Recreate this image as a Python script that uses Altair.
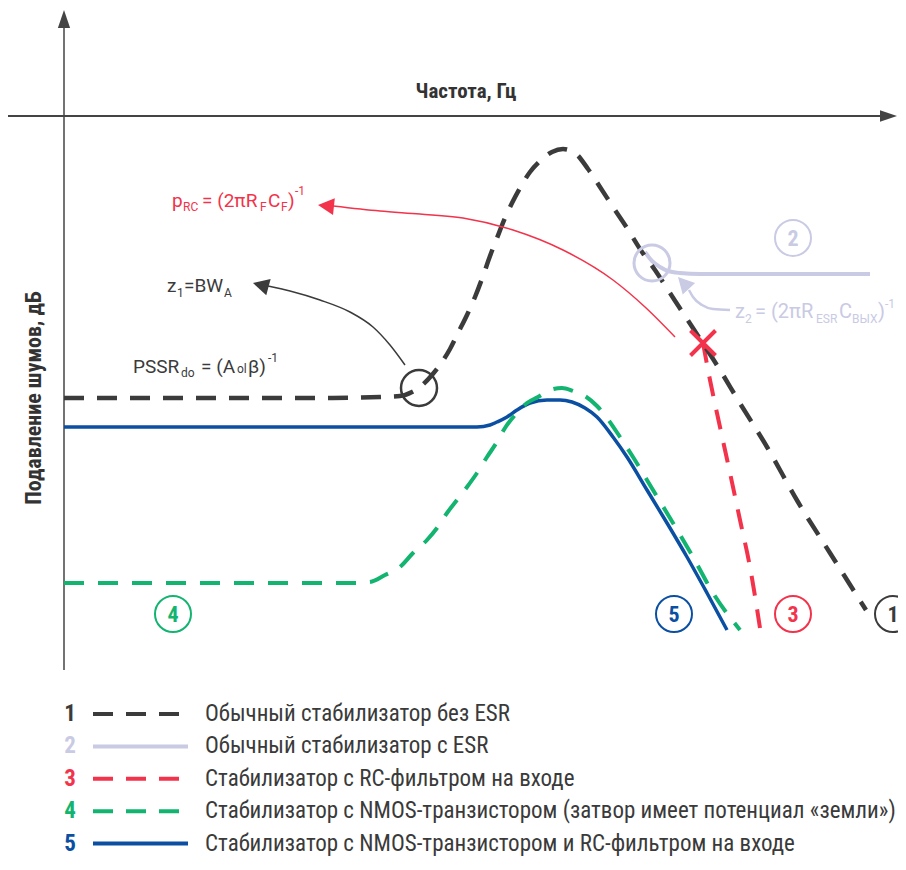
import altair as alt
import pandas as pd

# ---------------- colours / fonts ----------------
DARK = "#3b3b3b"
LAV = "#c9cae4"
RED = "#f2334b"
GREEN = "#12b46f"
BLUE = "#0b4fa3"
FONT_C = "Roboto Condensed, Liberation Sans Narrow, DejaVu Sans Condensed, Roboto, sans-serif"
FONT_R = "Roboto, Inter, sans-serif"

# ---------------- plot coordinate system ----------------
X_DOMAIN = [8, 898]
Y_DOMAIN = [8, 858]

# ---------------- curves ----------------
c1_x = [64, 200, 330, 380, 400, 412, 420, 432, 442, 450, 458, 467, 475, 483, 490, 497, 505, 512,
        520, 530, 540, 552, 563, 575, 588, 600, 613, 627, 640, 655, 670, 685, 702, 720, 738, 767,
        798, 830, 866]
c1_y = [398, 398, 398, 397, 396, 392, 387, 375, 362, 349, 333, 315, 297, 276, 256, 238, 218, 203,
        188, 172, 161, 152, 149, 153, 169, 187, 207, 228, 249, 270, 293, 316, 342, 370, 400, 447,
        502, 553, 610]

c2_x = [645, 652, 660, 668, 680, 700, 870]
c2_y = [252, 261, 267, 271, 273, 274, 274]

c3_x = [703, 710, 720, 730, 740, 750, 760]
c3_y = [343, 380, 427, 473, 520, 567, 628]

c4_x = [64, 355, 370, 385, 400, 413, 427, 437, 447, 457, 467, 477, 487, 497, 505, 515, 527, 538,
        550, 562, 573, 585, 597, 607, 620, 633, 653, 673, 693, 713, 740]
c4_y = [583, 583, 582, 575, 567, 553, 540, 528, 513, 500, 487, 473, 457, 442, 428, 415, 403, 397,
        390, 388, 391, 396, 406, 418, 437, 457, 490, 523, 557, 593, 630]

c5_x = [64, 477, 490, 497, 507, 517, 530, 547, 560, 572, 585, 597, 613, 627, 647, 667, 687, 707, 727]
c5_y = [427, 427, 425, 422, 417, 410, 403, 400, 400, 402, 408, 417, 437, 457, 490, 523, 557, 593, 630]

# annotation leader curves
red_arc_x = [333, 380, 420, 463, 513, 563, 613, 645, 675]
red_arc_y = [206, 211, 214, 218, 230, 250, 280, 307, 337]
gray_arc_x = [268, 290, 320, 350, 373, 390, 405]
gray_arc_y = [286, 291, 300, 312, 327, 345, 365]
lav_arc_x = [689, 693, 702, 713, 730]
lav_arc_y = [290, 297, 305, 309, 310]

# ---------------- legend ----------------
leg_num = ["1", "2", "3", "4", "5"]
leg_label = [
    "Обычный стабилизатор без ESR",
    "Обычный стабилизатор с ESR",
    "Стабилизатор с RC-фильтром на входе",
    "Стабилизатор с NMOS-транзистором (затвор имеет потенциал «земли»)",
    "Стабилизатор с NMOS-транзистором и RC-фильтром на входе",
]
leg_color = [DARK, LAV, RED, GREEN, BLUE]
leg_dashed = [True, False, True, True, False]

# numbered circles on the plot
tag_num = ["2", "4", "5", "3", "1"]
tag_x = [793, 173, 674, 793, 893]
tag_y = [238, 614, 614, 614, 614]
tag_color = [LAV, GREEN, BLUE, RED, DARK]

# formula texts: (text, x, y, size)
red_txt = [("p", 172, 207, 19), ("RC", 183, 211, 12), ("= (2πR", 202, 207, 19), ("F", 260, 211, 12),
           ("C", 268, 207, 19), ("F", 281, 211, 12), (")", 288, 207, 19), ("-1", 295, 195, 12)]
z1_txt = [("z", 167, 292, 19), ("1", 177, 297, 12), ("=BW", 184, 292, 19), ("A", 224, 297, 12)]
pssr_txt = [("PSSR", 133, 373, 19), ("do", 181, 377, 12), ("= (A", 201, 373, 19), ("ol", 237, 373, 12),
            ("β)", 248, 373, 19), ("-1", 268, 362, 12)]
z2_txt = [("z", 735, 318, 20), ("2", 745, 323, 12), ("= (2πR", 755, 318, 20), ("ESR", 816, 323, 12),
          ("C", 839, 318, 20), ("ВЫХ", 852, 323, 12), (")", 878, 318, 20), ("-1", 885, 308, 12)]

# ---------------- helpers ----------------
xs = alt.Scale(domain=X_DOMAIN, nice=False, zero=False)
ys = alt.Scale(domain=Y_DOMAIN, nice=False, zero=False, reverse=True)
X = alt.X("x:Q", scale=xs, axis=None)
Y = alt.Y("y:Q", scale=ys, axis=None)


def line(px, py, color, width, dash=None, interp="monotone"):
    df = pd.DataFrame({"x": px, "y": py, "i": list(range(len(px)))})
    kw = dict(color=color, strokeWidth=width, interpolate=interp, strokeCap="butt")
    if dash:
        kw["strokeDash"] = dash
    return alt.Chart(df).mark_line(**kw).encode(x=X, y=Y, order="i:Q")


def texts(pieces, color, weight="normal", align="left", baseline="alphabetic", angle=0, font=FONT_C):
    df = pd.DataFrame(pieces, columns=["t", "x", "y", "s"])
    return alt.Chart(df).mark_text(font=font, color=color, fontWeight=weight, align=align,
                                   baseline=baseline, angle=angle).encode(
        x=X, y=Y, text="t:N", size=alt.Size("s:Q", scale=None))


def arrowhead(x, y, angle, length, ratio, color):
    shape = "M0,0L1,-%sL1,%sZ" % (ratio, ratio)
    df = pd.DataFrame({"x": [x], "y": [y]})
    return alt.Chart(df).mark_point(shape=shape, size=(2 * length) ** 2, angle=angle, filled=True,
                                    color=color, opacity=1, strokeWidth=0).encode(x=X, y=Y)


def ring(x, y, d, color, width):
    df = pd.DataFrame({"x": [x], "y": [y]})
    return alt.Chart(df).mark_point(shape="circle", size=d * d, filled=False, color=color,
                                    strokeWidth=width, opacity=1).encode(x=X, y=Y)


layers = []

# axes
layers.append(alt.Chart(pd.DataFrame({"x": [64], "y": [27], "y2": [670]})).mark_rule(
    color="#444444", strokeWidth=1.5).encode(x=X, y=Y, y2="y2:Q"))
layers.append(alt.Chart(pd.DataFrame({"x": [8], "x2": [882], "y": [116]})).mark_rule(
    color="#444444", strokeWidth=2).encode(x=X, x2="x2:Q", y=Y))
layers.append(arrowhead(64, 10, 90, 18, 0.34, "#444444"))
layers.append(arrowhead(897, 116, 180, 17, 0.34, "#444444"))

# axis titles
layers.append(texts([("Частота, Гц", 466, 98, 21)], "#333333", weight="bold", align="center"))
layers.append(texts([("Подавление шумов, дБ", 34, 398, 22)], "#333333", weight="bold",
                    align="center", baseline="middle", angle=270))

# curves
layers.append(line(c2_x, c2_y, LAV, 4))
layers.append(line(c5_x, c5_y, BLUE, 3.5))
layers.append(line(c4_x, c4_y, GREEN, 4, dash=[20, 14]))
layers.append(line(c3_x, c3_y, RED, 4, dash=[20, 14]))
layers.append(line(c1_x, c1_y, DARK, 4.5, dash=[20, 13]))

# annotation leaders
layers.append(line(red_arc_x, red_arc_y, RED, 1.5))
layers.append(arrowhead(318, 205, 6, 16, 0.53, RED))
layers.append(line(gray_arc_x, gray_arc_y, DARK, 1.5))
layers.append(arrowhead(253, 283, 15, 16, 0.53, DARK))
layers.append(line(lav_arc_x, lav_arc_y, LAV, 2.5))
layers.append(arrowhead(678, 277, 47, 16, 0.53, LAV))

# annotation rings and cross
layers.append(ring(419, 388, 36, DARK, 2.5))
layers.append(ring(652, 263, 36, LAV, 3))
layers.append(alt.Chart(pd.DataFrame({"x": [703], "y": [343]})).mark_point(
    shape="M-1,-1L1,1M1,-1L-1,1", size=625, filled=False, color=RED, strokeWidth=4,
    opacity=1).encode(x=X, y=Y))

# formulas
layers.append(texts(red_txt, RED, font=FONT_R))
layers.append(texts(z1_txt, DARK, font=FONT_R))
layers.append(texts(pssr_txt, DARK, font=FONT_R))
layers.append(texts(z2_txt, LAV, font=FONT_R))

# numbered tags
for n, tx, ty, col in zip(tag_num, tag_x, tag_y, tag_color):
    layers.append(ring(tx, ty, 36, col, 2))
    layers.append(texts([(n, tx, ty + 1, 22)], col, weight="bold", align="center", baseline="middle"))

# legend
LEG_Y0, LEG_DY = 714, 32.4
for i, (n, lab, col, dashed) in enumerate(zip(leg_num, leg_label, leg_color, leg_dashed)):
    yy = LEG_Y0 + i * LEG_DY
    layers.append(texts([(n, 70, yy, 23)], col, weight="bold", align="center", baseline="middle"))
    df = pd.DataFrame({"x": [93], "x2": [180 if dashed else 188], "y": [yy]})
    kw = dict(color=col, strokeWidth=4, strokeCap="butt")
    if dashed:
        kw["strokeDash"] = [20, 13]
    layers.append(alt.Chart(df).mark_rule(**kw).encode(x=X, x2="x2:Q", y=Y))
    layers.append(texts([(lab, 205, yy, 23)], "#3a3a3a", align="left", baseline="middle"))

chart = alt.layer(*layers).properties(
    width=890, height=850,
    autosize=alt.AutoSizeParams(type="none"),
    padding=0,
).configure_view(stroke=None)

chart.save("out.html", embed_options={"renderer": "svg", "actions": False})
